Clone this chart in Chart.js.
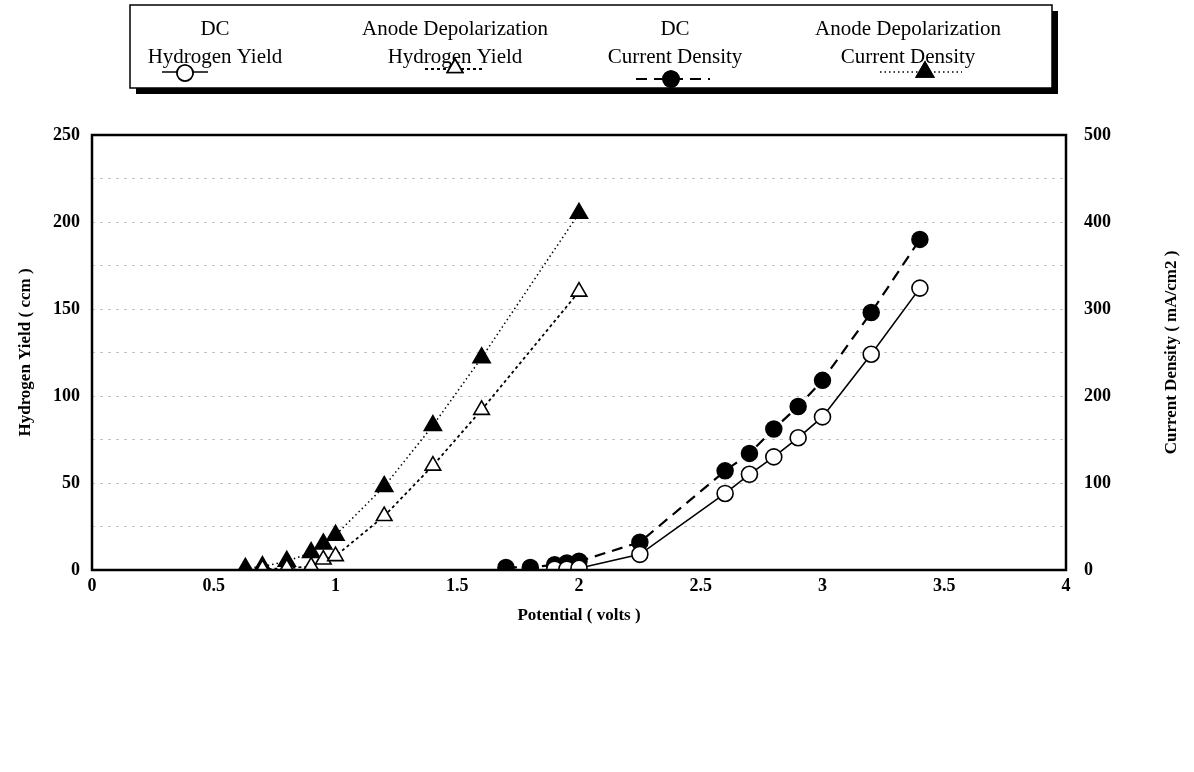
<!DOCTYPE html>
<html>
<head>
<meta charset="utf-8">
<script src="https://cdn.jsdelivr.net/npm/chart.js@4"></script>
<style>
html,body{margin:0;padding:0;background:#fff;}
#c{display:block;}
</style>
</head>
<body>
<canvas id="c" width="1194" height="772"></canvas>
<script>
// ---- data ----
const dcHYPotential = [1.9, 1.95, 2.0, 2.25, 2.6, 2.7, 2.8, 2.9, 3.0, 3.2, 3.4];
const dcHydrogenYield = [0.5, 0.5, 1, 9, 44, 55, 65, 76, 88, 124, 162];
const adHYPotential = [0.7, 0.8, 0.9, 0.95, 1.0, 1.2, 1.4, 1.6, 2.0];
const adHydrogenYield = [0.5, 1, 2, 6, 8, 31, 60, 92, 160];
const dcCDPotential = [1.7, 1.8, 1.9, 1.95, 2.0, 2.25, 2.6, 2.7, 2.8, 2.9, 3.0, 3.2, 3.4];
const dcCurrentDensity = [3, 3, 6, 8, 10, 32, 114, 134, 162, 188, 218, 296, 380];
const adCDPotential = [0.63, 0.7, 0.8, 0.9, 0.95, 1.0, 1.2, 1.4, 1.6, 2.0];
const adCurrentDensity = [2, 4, 10, 20, 30, 40, 96, 166, 244, 410];

const xTickLabels = ['0', '0.5', '1', '1.5', '2', '2.5', '3', '3.5', '4'];
const yLeftTickLabels = ['0', '50', '100', '150', '200', '250'];
const yRightTickLabels = ['0', '100', '200', '300', '400', '500'];

const legendLines1 = ['DC', 'Anode Depolarization', 'DC', 'Anode Depolarization'];
const legendLines2 = ['Hydrogen Yield', 'Hydrogen Yield', 'Current Density', 'Current Density'];

const xTitle = 'Potential ( volts )';
const yLeftTitle = 'Hydrogen Yield ( ccm )';
const yRightTitle = 'Current Density ( mA/cm2 )';

function pts(xs, ys) { return xs.map((x, i) => ({x: x, y: ys[i]})); }

const SERIF = '"Liberation Serif", "DejaVu Serif", serif';

// ---- plugins ----
const framePlugin = {
  id: 'frame',
  afterDraw(chart) {
    const ctx = chart.ctx, a = chart.chartArea;
    ctx.save();
    ctx.strokeStyle = '#000';
    ctx.lineWidth = 2.5;
    ctx.strokeRect(a.left, a.top, a.right - a.left, a.bottom - a.top);
    // y titles, both reading bottom-to-top
    ctx.fillStyle = '#000';
    ctx.font = 'bold 17px ' + SERIF;
    ctx.textAlign = 'center';
    ctx.textBaseline = 'middle';
    const cy = (a.top + a.bottom) / 2;
    ctx.save(); ctx.translate(26, cy); ctx.rotate(-Math.PI / 2); ctx.fillText(yLeftTitle, 0, 0); ctx.restore();
    ctx.save(); ctx.translate(1172, cy); ctx.rotate(-Math.PI / 2); ctx.fillText(yRightTitle, 0, 0); ctx.restore();
    ctx.restore();
  }
};

const legendPlugin = {
  id: 'customLegend',
  afterDraw(chart) {
    const ctx = chart.ctx;
    const bx = 130, by = 5, bw = 922, bh = 83;
    ctx.save();
    ctx.fillStyle = '#000';
    ctx.fillRect(bx + 6, by + 6, bw, bh);
    ctx.fillStyle = '#fff';
    ctx.fillRect(bx, by, bw, bh);
    ctx.strokeStyle = '#000';
    ctx.lineWidth = 1.5;
    ctx.strokeRect(bx, by, bw, bh);
    ctx.fillStyle = '#000';
    ctx.font = '21px ' + SERIF;
    ctx.textAlign = 'center';
    ctx.textBaseline = 'middle';
    const cx = [215, 455, 675, 908];
    for (let i = 0; i < 4; i++) {
      ctx.fillText(legendLines1[i], cx[i], 29);
      ctx.fillText(legendLines2[i], cx[i], 57);
    }
    // samples
    const ds = chart.data.datasets;
    const samples = [
      {x1: 162, x2: 208, y: 72, mx: 185, my: 73},
      {x1: 425, x2: 483, y: 69, mx: 455, my: 68},
      {x1: 636, x2: 710, y: 79, mx: 671, my: 79},
      {x1: 880, x2: 962, y: 72, mx: 925, my: 72}
    ];
    samples.forEach((s, i) => {
      const d = ds[i];
      ctx.save();
      ctx.strokeStyle = '#000';
      ctx.lineWidth = d.borderWidth;
      ctx.setLineDash(d.borderDash || []);
      ctx.beginPath(); ctx.moveTo(s.x1, s.y); ctx.lineTo(s.x2, s.y); ctx.stroke();
      ctx.setLineDash([]);
      ctx.restore();
      Chart.helpers.drawPoint(ctx, {
        pointStyle: d.pointStyle, radius: d.pointRadius, borderWidth: d.pointBorderWidth, rotation: 0
      }, s.mx, s.my);
      ctx.fillStyle = d.pointBackgroundColor;
      ctx.strokeStyle = '#000';
      ctx.lineWidth = d.pointBorderWidth;
      ctx.fill();
      ctx.stroke();
    });
    ctx.restore();
  }
};

const tickFont = {family: SERIF, size: 18, weight: 'bold'};
const gridStyle = {color: '#c4c4c4', lineWidth: 1, drawTicks: false};

new Chart(document.getElementById('c'), {
  type: 'line',
  data: {
    datasets: [
      {
        label: 'DC Hydrogen Yield', data: pts(dcHYPotential, dcHydrogenYield), yAxisID: 'y',
        borderColor: '#000', borderWidth: 1.6, borderDash: [],
        pointStyle: 'circle', pointRadius: 8, pointBorderWidth: 1.6,
        pointBackgroundColor: '#fff', pointBorderColor: '#000', tension: 0
      },
      {
        label: 'Anode Depolarization Hydrogen Yield', data: pts(adHYPotential, adHydrogenYield), yAxisID: 'y',
        borderColor: '#000', borderWidth: 1.8, borderDash: [3, 3],
        pointStyle: 'triangle', pointRadius: 9, pointBorderWidth: 1.6,
        pointBackgroundColor: '#fff', pointBorderColor: '#000', tension: 0
      },
      {
        label: 'DC Current Density', data: pts(dcCDPotential, dcCurrentDensity), yAxisID: 'y2',
        borderColor: '#000', borderWidth: 2.2, borderDash: [11, 7],
        pointStyle: 'circle', pointRadius: 8, pointBorderWidth: 1.5,
        pointBackgroundColor: '#000', pointBorderColor: '#000', tension: 0
      },
      {
        label: 'Anode Depolarization Current Density', data: pts(adCDPotential, adCurrentDensity), yAxisID: 'y2',
        borderColor: '#000', borderWidth: 1.5, borderDash: [1.5, 3],
        pointStyle: 'triangle', pointRadius: 10, pointBorderWidth: 1.5,
        pointBackgroundColor: '#000', pointBorderColor: '#000', tension: 0
      }
    ]
  },
  options: {
    responsive: false,
    animation: false,
    layout: {padding: {top: 135, bottom: 142, left: 0, right: 0}},
    plugins: {legend: {display: false}, tooltip: {enabled: false}},
    scales: {
      x: {
        type: 'linear', min: 0, max: 4,
        ticks: {
          stepSize: 0.5, font: tickFont, color: '#000', padding: 6,
          callback: (v) => { const i = Math.round(v / 0.5); return xTickLabels[i]; }
        },
        grid: {display: false, drawTicks: false},
        border: {display: false},
        title: {display: true, text: xTitle, font: {family: SERIF, size: 17, weight: 'bold'}, color: '#000', padding: {top: 2}},
        afterFit: (s) => { s.height = 60; }
      },
      y: {
        type: 'linear', position: 'left', min: 0, max: 250,
        ticks: {
          stepSize: 25, font: tickFont, color: '#000', padding: 12,
          callback: (v) => (v % 50 === 0 ? yLeftTickLabels[v / 50] : '')
        },
        grid: Object.assign({}, gridStyle),
        border: {display: false, dash: [3, 5]},
        afterFit: (s) => { s.width = 92; }
      },
      y2: {
        type: 'linear', position: 'right', min: 0, max: 500,
        ticks: {
          stepSize: 100, font: tickFont, color: '#000', padding: 18,
          callback: (v) => yRightTickLabels[v / 100]
        },
        grid: {display: false, drawTicks: false},
        border: {display: false},
        afterFit: (s) => { s.width = 128; }
      }
    }
  },
  plugins: [framePlugin, legendPlugin]
});
</script>
</body>
</html>
